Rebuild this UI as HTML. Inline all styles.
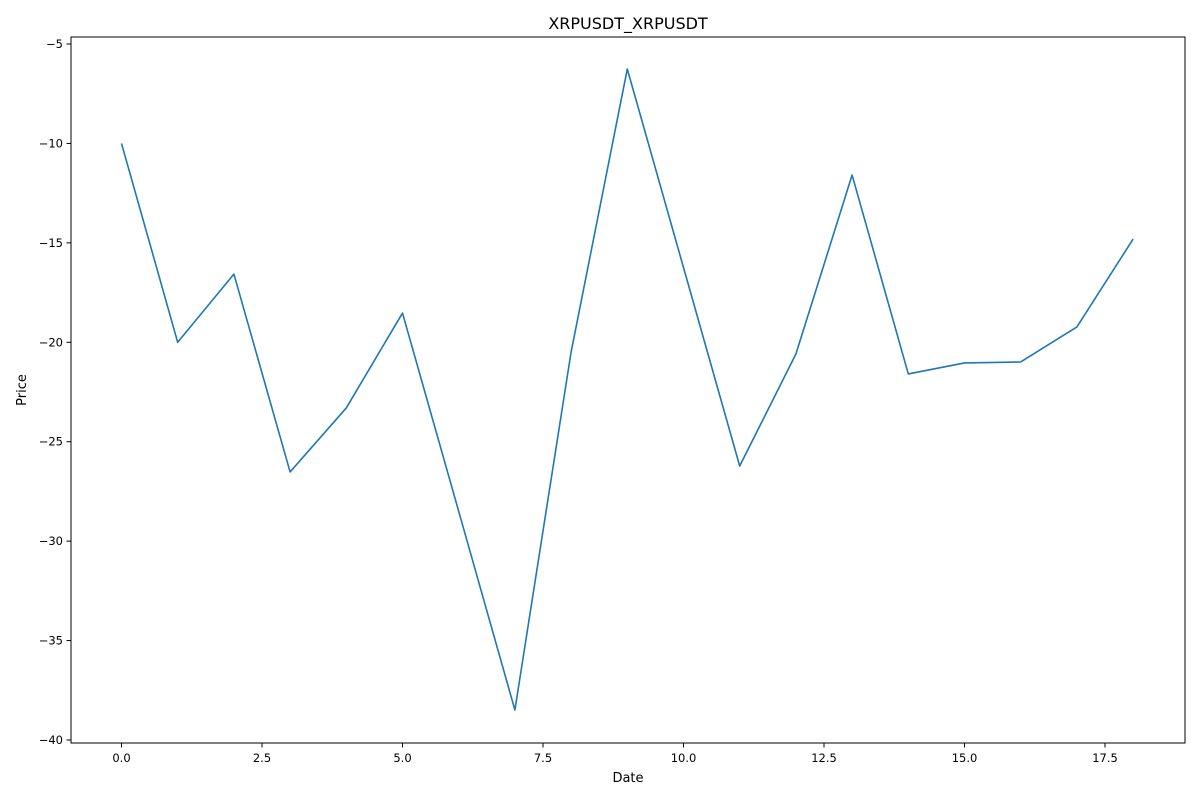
<!DOCTYPE html>
<html><head><meta charset="utf-8">
<style>
html,body{margin:0;padding:0;background:#fff;}
svg text{font-family:"DejaVu Sans","Liberation Sans",sans-serif;fill:#000;}
</style></head>
<body>
<svg id="chart" width="1200" height="800" xmlns="http://www.w3.org/2000/svg">
<rect width="1200" height="800" fill="#fff"/>
<text x="628" y="29" font-size="16" text-anchor="middle">XRPUSDT_XRPUSDT</text>
<text x="628" y="782" font-size="13" text-anchor="middle">Date</text>
<text x="26" y="390" font-size="13" text-anchor="middle" transform="rotate(-90 26 390)">Price</text>
<g id="ticks"></g>
<path id="line" fill="none" stroke="#1f77b4" stroke-width="1.6" stroke-linejoin="round"/>
<rect x="71" y="37" width="1114" height="706" fill="none" stroke="#000" stroke-width="1"/>
</svg>
<script>
const xValues = [0,1,2,3,4,5,6,7,8,9,10,11,12,13,14,15,16,17,18];
const priceValues = [-10.0,-20.0,-16.57,-26.52,-23.30,-18.53,-28.5,-38.49,-20.49,-6.26,-16.24,-26.22,-20.59,-11.59,-21.59,-21.04,-20.99,-19.23,-14.81];
const xTicks = [0,2.5,5,7.5,10,12.5,15,17.5];
const xTickLabels = ["0.0","2.5","5.0","7.5","10.0","12.5","15.0","17.5"];
const yTicks = [-5,-10,-15,-20,-25,-30,-35,-40];
const yTickLabels = ["\u22125","\u221210","\u221215","\u221220","\u221225","\u221230","\u221235","\u221240"];

const sx = v => 121.5 + v * 56.2;
const sy = v => 44 + (-5 - v) * 19.886;
const NS = "http://www.w3.org/2000/svg";
const g = document.getElementById('ticks');
xTicks.forEach((t,i)=>{
  const l = document.createElementNS(NS,'line');
  l.setAttribute('x1',sx(t));l.setAttribute('x2',sx(t));l.setAttribute('y1',743);l.setAttribute('y2',747.5);l.setAttribute('stroke','#000');
  
  
  g.appendChild(l);
  const tx = document.createElementNS(NS,'text');
  tx.setAttribute('x',sx(t));tx.setAttribute('y',762);tx.setAttribute('font-size','11.5');tx.setAttribute('text-anchor','middle');
  tx.textContent = xTickLabels[i];
  
  
  g.appendChild(tx);
});
yTicks.forEach((t,i)=>{
  const l = document.createElementNS(NS,'line');
  l.setAttribute('x1',66.5);l.setAttribute('x2',71);l.setAttribute('y1',sy(t));l.setAttribute('y2',sy(t));l.setAttribute('stroke','#000');
  
  
  g.appendChild(l);
  const tx = document.createElementNS(NS,'text');
  tx.setAttribute('x',63);tx.setAttribute('y',sy(t)+4);tx.setAttribute('font-size','11.5');tx.setAttribute('text-anchor','end');
  tx.textContent = yTickLabels[i];
  
  
  g.appendChild(tx);
});
document.getElementById('line').setAttribute('d', xValues.map((x,i)=>(i?'L':'M')+sx(x)+' '+sy(priceValues[i])).join(' '));
</script>
</body></html>
